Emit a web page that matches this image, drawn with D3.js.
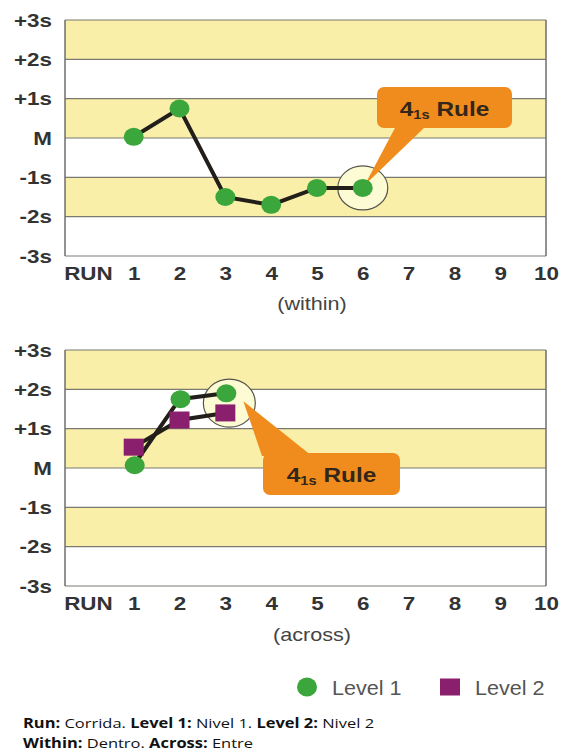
<!DOCTYPE html>
<html>
<head>
<meta charset="utf-8">
<script src="https://cdn.jsdelivr.net/npm/d3@7"></script>
<style>
  body { margin: 0; background: #fff; }
  svg { display: block; font-family: "Liberation Sans", Arial, sans-serif; }
</style>
</head>
<body>
<div id="chart-area"></div>
<script>
const W = 565, H = 754;

// data
const runTicks = [0, 1, 2, 3, 4, 5, 6, 7, 8, 9, 10];
const sdValues = [-3, -2, -1, 0, 1, 2, 3];
const sdLabels = ['-3s', '-2s', '-1s', 'M', '+1s', '+2s', '+3s'];
const bands = [[2, 3], [0, 1], [-2, -1]];
const withinRuns = [1, 2, 3, 4, 5, 6];
const withinLevel1 = [0.03, 0.75, -1.5, -1.7, -1.27, -1.27];
const acrossRuns = [1, 2, 3];
const acrossLevel1 = [0.07, 1.75, 1.9];
const acrossLevel2 = [0.53, 1.22, 1.4];

const yellow = '#f9efa9', green = '#3aa63c', purple = '#8a1f6d', orange = '#f08c1d';
const ink = '#333';
const FONT = '"Liberation Sans", Arial, sans-serif';

const svg = d3.select('#chart-area')
  .append('svg')
  .attr('width', W)
  .attr('height', H);

const x = d3.scaleLinear()
  .domain([-0.5, 10])
  .range([65, 546]);

const y = d3.scaleLinear()
  .domain([-3, 3])
  .range([256, 20]);

// text in the picture is a bit stretched sideways
function label(g, px, py, sx) {
  return g.append('text')
    .attr('transform', `translate(${px}, ${py}) scale(${sx}, 1)`);
}

function panel(offsetY, caption) {
  const g = svg.append('g')
    .attr('transform', `translate(0, ${offsetY})`);

  // bands
  g.selectAll('.band')
    .data(bands)
    .enter().append('rect')
    .attr('x', x(-0.5))
    .attr('width', x(10) - x(-0.5))
    .attr('y', d => y(d[1]))
    .attr('height', d => y(d[0]) - y(d[1]))
    .attr('fill', yellow);

  // grid lines
  g.selectAll('.grid')
    .data(sdValues)
    .enter().append('line')
    .attr('x1', x(-0.5)).attr('x2', x(10))
    .attr('y1', d => y(d)).attr('y2', d => y(d))
    .attr('stroke', '#7a7a72')
    .attr('stroke-width', 1.2);

  [-0.5, 10].forEach(v => {
    g.append('line')
      .attr('x1', x(v)).attr('x2', x(v))
      .attr('y1', y(3)).attr('y2', y(-3))
      .attr('stroke', '#6e6e6e').attr('stroke-width', 1.5);
  });

  // axes
  const yAxis = g.append('g')
    .attr('transform', `translate(${x(-0.5) - 13}, 0)`)
    .call(d3.axisLeft(y).tickValues(sdValues).tickSize(0).tickFormat(d => sdLabels[sdValues.indexOf(d)]));
  yAxis.select('.domain').remove();
  yAxis.selectAll('text')
    .attr('font-size', 19).attr('font-weight', 'bold')
    .attr('font-family', FONT)
    .attr('fill', ink).attr('x', 0)
    .attr('transform', 'scale(1.18, 1)');

  const xAxis = g.append('g')
    .attr('transform', `translate(0, ${y(-3) + 7})`)
    .call(d3.axisBottom(x).tickValues(runTicks).tickSize(0).tickFormat(d => d === 0 ? 'RUN' : d));
  xAxis.select('.domain').remove();
  xAxis.selectAll('text')
    .attr('font-size', 19).attr('font-weight', 'bold')
    .attr('font-family', FONT)
    .attr('fill', ink)
    .attr('transform', 'scale(1.18, 1)');

  label(g, 312, caption.y, 1.2)
    .attr('text-anchor', 'middle')
    .attr('font-size', 18)
    .attr('fill', '#444')
    .text(caption.text);

  return g;
}

function callout(g, tip, base, box) {
  g.append('path')
    .attr('d', `M${tip[0]},${tip[1]} L${base[0]},${base[1]} L${base[2]},${base[3]} Z`)
    .attr('fill', orange);
  g.append('rect')
    .attr('x', box[0]).attr('y', box[1])
    .attr('width', box[2]).attr('height', box[3])
    .attr('rx', 7)
    .attr('fill', orange);
  const t = label(g, box[0] + box[2] / 2, box[1] + box[3] / 2 + 8, 1.22)
    .attr('text-anchor', 'middle')
    .attr('font-size', 20)
    .attr('font-weight', 'bold')
    .attr('fill', '#33261a');
  t.append('tspan').text('4');
  t.append('tspan').attr('font-size', 12).attr('dy', 3).text('1s');
  t.append('tspan').attr('dy', -3).text(' Rule');
}

const line = d3.line()
  .x(d => x(d[0]))
  .y(d => y(d[1]));

function dots(g, pts, dx) {
  g.selectAll(null)
    .data(pts)
    .enter().append('ellipse')
    .attr('cx', d => x(d[0]) + dx).attr('cy', d => y(d[1]))
    .attr('rx', 10).attr('ry', 9)
    .attr('fill', green);
}

// ---- top panel (within)
const topPanel = panel(0, {y: 310, text: '(within)'});
const withinPts = withinRuns.map((r, i) => [r, withinLevel1[i]]);

topPanel.append('ellipse')
  .attr('cx', x(6)).attr('cy', y(withinLevel1[5]))
  .attr('rx', 25).attr('ry', 22)
  .attr('fill', '#fdfbd3')
  .attr('stroke', '#55554d').attr('stroke-width', 1.2);

callout(topPanel, [x(6) + 2, y(withinLevel1[5]) - 3], [396, 126, 426, 126], [377, 87, 135, 41]);

topPanel.append('path')
  .datum(withinPts)
  .attr('d', line)
  .attr('fill', 'none')
  .attr('stroke', '#221e1a')
  .attr('stroke-width', 4);

dots(topPanel, withinPts, 0);

// ---- bottom panel (across)
const bottomPanel = panel(330, {y: 311, text: '(across)'});
const across1 = acrossRuns.map((r, i) => [r, acrossLevel1[i]]);
const across2 = acrossRuns.map((r, i) => [r, acrossLevel2[i]]);

bottomPanel.append('ellipse')
  .attr('cx', x(3) + 4).attr('cy', y(1.65))
  .attr('rx', 26).attr('ry', 24)
  .attr('fill', '#fdfbd3')
  .attr('stroke', '#55554d').attr('stroke-width', 1.2);

callout(bottomPanel, [x(3) + 18, y(1.7)], [262, 126, 312, 126], [263, 123, 137, 42]);

[across1, across2].forEach(pts => {
  bottomPanel.append('path')
    .datum(pts)
    .attr('d', line)
    .attr('fill', 'none')
    .attr('stroke', '#221e1a')
    .attr('stroke-width', 4);
});

bottomPanel.selectAll('.p2')
  .data(across2)
  .enter().append('rect')
  .attr('x', d => x(d[0]) - 10).attr('y', d => y(d[1]) - 8.5)
  .attr('width', 20).attr('height', 17)
  .attr('fill', purple);

dots(bottomPanel, across1, 1);

// ---- legend
const legend = svg.append('g').attr('transform', 'translate(0, 687)');
legend.append('ellipse').attr('cx', 307).attr('cy', 0).attr('rx', 10).attr('ry', 9.5).attr('fill', green);
label(legend, 332, 7.5, 1.08).attr('font-size', 20).attr('fill', '#555').text('Level 1');
legend.append('rect').attr('x', 440).attr('y', -8.5).attr('width', 20).attr('height', 17).attr('fill', purple);
label(legend, 475, 7.5, 1.08).attr('font-size', 20).attr('fill', '#555').text('Level 2');

// ---- footnote
const notes = [
  [['Run:', true], [' Corrida. ', false], ['Level 1:', true], [' Nivel 1. ', false], ['Level 2:', true], [' Nivel 2', false]],
  [['Within:', true], [' Dentro. ', false], ['Across:', true], [' Entre', false]]
];
notes.forEach((parts, i) => {
  const t = label(svg, 23, 728 + i * 20, 1.22)
    .attr('font-size', 13.5)
    .attr('font-family', '"Open Sans", "Noto Sans", sans-serif')
    .attr('fill', '#111')
    .style('white-space', 'pre');
  parts.forEach(p => t.append('tspan').attr('font-weight', p[1] ? 'bold' : 'normal').text(p[0]));
});
</script>
</body>
</html>
